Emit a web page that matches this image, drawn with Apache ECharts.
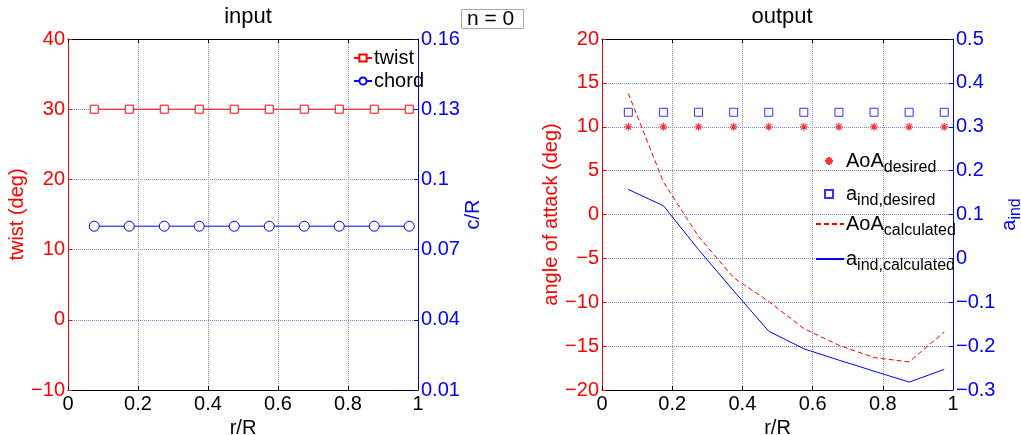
<!DOCTYPE html>
<html>
<head>
<meta charset="utf-8">
<script src="https://cdn.jsdelivr.net/npm/echarts@6/dist/echarts.min.js"></script>
<style>
html,body{margin:0;padding:0;background:#fff;}
#main{width:1021px;height:435px;}
</style>
</head>
<body>
<div id="main"></div>
<script>
//r/R positions of the blade elements
var rR = [0.075, 0.175, 0.275, 0.375, 0.475, 0.575, 0.675, 0.775, 0.875, 0.975];
//input
var twist = [30, 30, 30, 30, 30, 30, 30, 30, 30, 30];
var chord = [0.08, 0.08, 0.08, 0.08, 0.08, 0.08, 0.08, 0.08, 0.08, 0.08];
//output
var aoaDesired = [10, 10, 10, 10, 10, 10, 10, 10, 10, 10];
var aindDesired = [0.333, 0.333, 0.333, 0.333, 0.333, 0.333, 0.333, 0.333, 0.333, 0.333];
var aoaCalc = [13.8, 3.7, -2.5, -7.2, -9.9, -13.0, -14.9, -16.3, -16.8, -13.4];
var aindCalc = [0.157, 0.12, 0.02, -0.074, -0.166, -0.206, -0.232, -0.257, -0.282, -0.253];
//titles
var titles = ['input', 'output'];
var iterLabel = 'n = 0';

var font = 'Liberation Sans';
var red = '#ff0000';
var blue = '#0000ff';

function pairs(ys){
	var out = [];
	for(var i=0;i<rR.length;i++){
		out.push([rR[i], ys[i]]);
	}
	return out;
}
function fmt(v){
	var s = String(+v.toFixed(2));
	return s.replace('-', '\u2212');
}
//asterisk marker like matlab '*'
var star = 'path://M5,0L5,10M0,5L10,5M1.5,1.5L8.5,8.5M1.5,8.5L8.5,1.5';

function xAxes(gridIndex){
	return [{
		type:'value', gridIndex:gridIndex, min:0, max:1, interval:0.2,
		name:'r/R', nameLocation:'middle', nameGap:18,
		nameTextStyle:{color:'#000', fontSize:20, fontFamily:font},
		axisLine:{onZero:false, lineStyle:{color:'#000', width:1}},
		axisTick:{inside:true, length:4, lineStyle:{color:'#000'}},
		axisLabel:{color:'#000', fontSize:20, fontFamily:font, margin:4, formatter:fmt},
		splitLine:{show:true, lineStyle:{color:'#999', type:'dotted', width:1}}
	},{
		type:'value', gridIndex:gridIndex, min:0, max:1, interval:0.2, position:'top',
		axisLine:{onZero:false, lineStyle:{color:'#000', width:1}},
		axisTick:{inside:true, length:4, lineStyle:{color:'#000'}},
		axisLabel:{show:false},
		splitLine:{show:false}
	}];
}
function yAxis(gridIndex, side, min, max, interval, name, color, gap, grid){
	return {
		type:'value', gridIndex:gridIndex, position:side, min:min, max:max, interval:interval,
		name:name, nameLocation:'middle', nameGap:gap, nameRotate:90,
		nameTextStyle:{color:color, fontSize:20, fontFamily:font,
			rich:{
				m:{fontSize:20, color:color, fontFamily:font},
				s:{fontSize:16, color:color, fontFamily:font, padding:[12,0,0,0]}
			}
		},
		axisLine:{show:true, onZero:false, lineStyle:{color:color, width:1}},
		axisTick:{inside:true, length:4, lineStyle:{color:color}},
		axisLabel:{color:color, fontSize:20, fontFamily:font, margin:3, formatter:fmt},
		splitLine:{show:grid, lineStyle:{color:'#8080ff', type:'dotted', width:1}}
	};
}

var legendNames = {
	'AoA_desired':'{g|}{m|AoA}{s|desired}',
	'a_ind_desired':'{g|}{m|a}{s|ind,desired}',
	'AoA_calculated':'{m|AoA}{s|calculated}',
	'a_ind_calculated':'{m|a}{s|ind,calculated}'
};
var legendRich = {
	g:{width:8},
	m:{fontSize:20, color:'#000', fontFamily:font},
	s:{fontSize:16, color:'#000', fontFamily:font, padding:[14,0,0,0]}
};

var dom = document.getElementById('main');
var myChart = echarts.init(dom, null, {renderer:'canvas'});
var xs = xAxes(0).concat(xAxes(1));
option = {
	animation:false,
	backgroundColor:'#fff',
	textStyle:{fontFamily:font},
	title:[
		{text:titles[0], left:243, top:1, textAlign:'center', textStyle:{fontSize:22, fontWeight:'normal', color:'#000', fontFamily:font}},
		{text:titles[1], left:777, top:1, textAlign:'center', textStyle:{fontSize:22, fontWeight:'normal', color:'#000', fontFamily:font}}
	],
	graphic:[
		{type:'rect', left:461, top:9, shape:{width:62, height:19}, style:{fill:'#fff', stroke:'#aaa', lineWidth:1}},
		{type:'text', left:467, top:9, style:{text:iterLabel, fontSize:21, fontFamily:font, fill:'#000'}}
	],
	legend:[{
		data:['twist','chord'],
		orient:'vertical', left:348, top:43, itemWidth:18, itemHeight:9, itemGap:3,
		textStyle:{fontSize:20, color:'#000', fontFamily:font, padding:[0,0,0,-3]}
	},{
		//marker entries
		data:['AoA_desired','a_ind_desired'],
		orient:'vertical', left:819, top:146, itemWidth:8, itemHeight:8, itemGap:8,
		formatter:function(name){ return legendNames[name]; },
		textStyle:{fontSize:20, color:'#000', fontFamily:font, rich:legendRich}
	},{
		//line entries
		data:[{name:'AoA_calculated', itemStyle:{opacity:0}},{name:'a_ind_calculated', itemStyle:{opacity:0}}],
		orient:'vertical', left:810, top:209, itemWidth:28, itemHeight:8, itemGap:10,
		formatter:function(name){ return legendNames[name]; },
		textStyle:{fontSize:20, color:'#000', fontFamily:font, padding:[0,0,0,-3], rich:legendRich}
	}],
	grid:[
		{left:68, top:39, width:350, height:351, outerBoundsMode:'none'},
		{left:602, top:39, width:351, height:351, outerBoundsMode:'none'}
	],
	xAxis: xs,
	yAxis:[
		yAxis(0,'left',-10,40,10,'twist (deg)',red,34,false),
		yAxis(0,'right',0.01,0.16,0.03,'c/R',blue,43,true),
		yAxis(1,'left',-20,20,5,'angle of attack (deg)',red,33,false),
		yAxis(1,'right',-0.3,0.5,0.1,'{m|a}{s|ind}',blue,39,true)
	],
	series:[
		{name:'twist', type:'line', xAxisIndex:0, yAxisIndex:0, data:pairs(twist),
			symbol:'rect', symbolSize:8, color:red,
			itemStyle:{color:'#fff', borderColor:red, borderWidth:1},
			lineStyle:{color:red, width:1}},
		{name:'chord', type:'line', xAxisIndex:0, yAxisIndex:1, data:pairs(chord),
			symbol:'circle', symbolSize:10, color:blue,
			itemStyle:{color:'#fff', borderColor:blue, borderWidth:1},
			lineStyle:{color:blue, width:1}},
		{name:'AoA_desired', type:'scatter', xAxisIndex:2, yAxisIndex:2, data:pairs(aoaDesired),
			symbol:star, symbolSize:8,
			itemStyle:{color:red, borderColor:red, borderWidth:1.2}},
		{name:'a_ind_desired', type:'scatter', xAxisIndex:2, yAxisIndex:3, data:pairs(aindDesired),
			symbol:'rect', symbolSize:8,
			itemStyle:{color:'#fff', borderColor:blue, borderWidth:1}},
		{name:'AoA_calculated', type:'line', xAxisIndex:2, yAxisIndex:2, data:pairs(aoaCalc),
			symbol:'none', color:red,
			lineStyle:{color:red, width:1, type:[5,3]}},
		{name:'a_ind_calculated', type:'line', xAxisIndex:2, yAxisIndex:3, data:pairs(aindCalc),
			symbol:'none', color:blue,
			lineStyle:{color:blue, width:1}}
	]
};
if(option && typeof option === "object") {
	myChart.setOption(option, true);
}
</script>
</body>
</html>
